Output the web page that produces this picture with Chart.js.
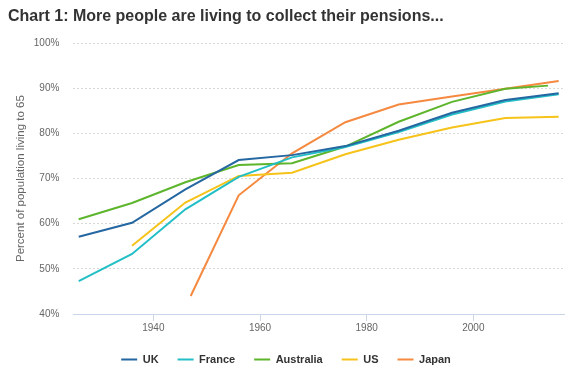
<!DOCTYPE html>
<html>
<head>
<meta charset="utf-8">
<script src="https://cdn.jsdelivr.net/npm/chart.js@4"></script>
<style>
  html, body { margin: 0; padding: 0; background: #fff; }
  #wrap { width: 570px; height: 385px; position: relative; }
</style>
</head>
<body>
<div id="wrap"><canvas id="pensionChart"></canvas></div>
<script>
const seriesNames = ['UK', 'France', 'Australia', 'US', 'Japan'];
const seriesColors = ['#2567a1', '#22bfc6', '#5db52c', '#f6c31a', '#f5893f'];

const ukYears = [1926, 1936, 1946, 1956, 1966, 1976, 1986, 1996, 2006, 2016];
const ukValues = [57.1, 60.2, 67.6, 74.1, 75.2, 77.2, 80.6, 84.6, 87.4, 88.9];

const franceYears = [1926, 1936, 1946, 1956, 1966, 1976, 1986, 1996, 2006, 2016];
const franceValues = [47.3, 53.3, 63.2, 70.4, 74.7, 77.0, 80.3, 84.2, 87.1, 88.7];

const australiaYears = [1926, 1936, 1946, 1956, 1966, 1976, 1986, 1996, 2006, 2014];
const australiaValues = [61.0, 64.6, 69.2, 73.0, 73.4, 77.1, 82.6, 87.0, 89.9, 90.6];

const usYears = [1936, 1946, 1956, 1966, 1976, 1986, 1996, 2006, 2016];
const usValues = [55.1, 64.7, 70.6, 71.3, 75.4, 78.6, 81.3, 83.4, 83.7];

const japanYears = [1947, 1956, 1966, 1976, 1986, 1996, 2006, 2016];
const japanValues = [44.0, 66.3, 75.6, 82.5, 86.4, 88.2, 89.9, 91.6];

const xTickYears = [1940, 1960, 1980, 2000];
const yTickValues = [40, 50, 60, 70, 80, 90, 100];

const allYears = [ukYears, franceYears, australiaYears, usYears, japanYears];
const allValues = [ukValues, franceValues, australiaValues, usValues, japanValues];

const datasets = seriesNames.map((name, i) => ({
  label: name,
  data: allYears[i].map((yr, j) => ({ x: yr, y: allValues[i][j] })),
  borderColor: seriesColors[i],
  backgroundColor: seriesColors[i],
  borderWidth: 2,
  pointRadius: 0,
  pointHoverRadius: 0,
  pointStyle: 'line',
  tension: 0
}));

const font = "'Liberation Sans', Arial, Helvetica, sans-serif";

new Chart(document.getElementById('pensionChart'), {
  type: 'line',
  data: { datasets },
  options: {
    responsive: true,
    maintainAspectRatio: false,
    animation: false,
    layout: { padding: { left: 8, right: 6, top: 0, bottom: 10 } },
    plugins: {
      title: {
        display: true,
        text: 'Chart 1: More people are living to collect their pensions...',
        align: 'start',
        color: '#333333',
        font: { family: font, size: 16, weight: 'bold' },
        padding: { top: 7, bottom: 17 }
      },
      legend: {
        position: 'bottom',
        labels: {
          usePointStyle: true,
          pointStyleWidth: 16,
          padding: 19,
          color: '#333333',
          font: { family: font, size: 11, weight: 'bold' }
        }
      },
      tooltip: { enabled: false }
    },
    scales: {
      x: {
        type: 'linear',
        min: 1925,
        max: 2017,
        afterBuildTicks: axis => { axis.ticks = xTickYears.map(v => ({ value: v })); },
        grid: {
          drawOnChartArea: false,
          drawTicks: true,
          tickLength: 7,
          color: '#ccd6eb'
        },
        border: { display: true, color: '#ccd6eb', width: 1 },
        ticks: {
          color: '#666666',
          padding: 1,
          font: { family: font, size: 10 },
          callback: v => String(v)
        }
      },
      y: {
        min: 40,
        max: 100,
        afterBuildTicks: axis => { axis.ticks = yTickValues.map(v => ({ value: v })); },
        grid: { color: '#d8d8d8', drawTicks: false },
        border: { display: false, dash: [2, 2] },
        ticks: {
          color: '#666666',
          padding: 14,
          font: { family: font, size: 10 },
          callback: v => v + '%'
        },
        title: {
          display: true,
          text: 'Percent of population living to 65',
          color: '#666666',
          font: { family: font, size: 11.5 },
          padding: { top: 6, bottom: -8 }
        }
      }
    }
  }
});
</script>
</body>
</html>
